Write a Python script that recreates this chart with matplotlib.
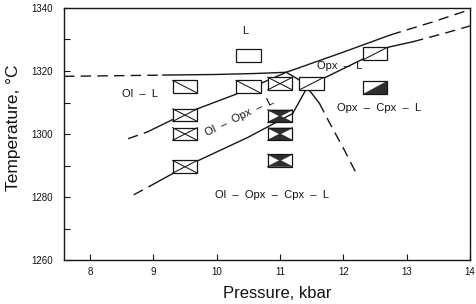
import matplotlib
matplotlib.use("Agg")
import matplotlib.pyplot as plt
from matplotlib.patches import Rectangle, Polygon

plt.rcParams['font.family'] = ['Liberation Sans', 'DejaVu Sans']

# ---- data (pressure kbar, temperature C) ----
# L / Ol-L boundary
ol_liq_dash_p = [7.59, 8.4, 9.15]
ol_liq_dash_t = [1318.3, 1318.5, 1318.7]
ol_liq_solid_p = [9.15, 10.0, 10.6, 11.1]
ol_liq_solid_t = [1318.7, 1318.9, 1319.2, 1319.6]
# Ol-L / Ol-Opx-L and L / Opx-L boundary
opx_in_dash_p = [8.6, 8.9]
opx_in_dash_t = [1298.5, 1300.6]
opx_in_solid_p = [8.9, 9.5, 10.3, 11.1, 12.0, 12.75]
opx_in_solid_t = [1300.6, 1306.5, 1312.6, 1319.6, 1326.0, 1331.5]
opx_in_dash2_p = [12.75, 13.4, 14.0]
opx_in_dash2_t = [1331.5, 1335.5, 1339.5]
# Ol-Opx-L / Ol-Opx-Cpx-L and Opx-L / Opx-Cpx-L boundary
cpx_in_dash_p = [8.69, 8.95]
cpx_in_dash_t = [1280.7, 1283.5]
cpx_in_solid_p = [8.95, 9.5, 10.5, 11.2, 11.42, 11.72, 12.3, 12.72, 13.1]
cpx_in_solid_t = [1283.5, 1289.6, 1299.0, 1306.5, 1314.5, 1318.0, 1323.7, 1327.6, 1329.3]
cpx_in_dash2_p = [13.1, 13.6, 14.0]
cpx_in_dash2_t = [1329.3, 1332.0, 1334.3]
# Ol-out boundary
ol_out_solid_p = [11.1, 11.3, 11.45, 11.62]
ol_out_solid_t = [1319.6, 1317.2, 1314.2, 1309.8]
ol_out_dash_p = [11.62, 11.77, 12.0, 12.23]
ol_out_dash_t = [1309.8, 1304.0, 1295.5, 1286.5]

# experiments: pressure, temperature, symbol
exp_p = [10.5, 9.5, 10.5, 11.0, 11.5, 12.5, 12.5, 9.5, 9.5, 9.5, 11.0, 11.0, 11.0]
exp_t = [1325.0, 1315.0, 1315.0, 1316.0, 1316.0, 1325.5, 1314.7, 1306.0, 1300.0, 1289.6,
         1305.7, 1300.0, 1291.6]
exp_kind = ['open', 'back', 'back', 'cross', 'fwd', 'fwd', 'half', 'cross', 'cross', 'cross',
            'bow', 'bow', 'bow']

field_labels = ['L', 'Ol  –  L', 'Ol  –  Opx  –  L', 'Opx  –  L', 'Opx  –  Cpx  –  L',
                'Ol  –  Opx  –  Cpx  –  L']
field_p = [10.45, 8.79, 10.37, 11.94, 12.57, 10.87]
field_t = [1332.7, 1312.6, 1305.4, 1321.5, 1308.4, 1280.7]
field_rot = [0, 0, 26, 0, 0, 0]

x_ticks = [8, 9, 10, 11, 12, 13, 14]
y_ticks = [1260, 1280, 1300, 1320, 1340]

# ---- figure ----
fig = plt.figure(figsize=(4.76, 3.04), dpi=100)
ax = fig.add_axes([0.1345, 0.1447, 0.853, 0.829])
ax.set_xlim(7.59, 14.0)
ax.set_ylim(1260, 1340)

lc = '#161616'
lw = 1.0
dash = (0, (7.5, 4.5))
ax.plot(ol_liq_dash_p, ol_liq_dash_t, color=lc, lw=lw, ls=dash)
ax.plot(ol_liq_solid_p, ol_liq_solid_t, color=lc, lw=lw)
ax.plot(opx_in_dash_p, opx_in_dash_t, color=lc, lw=lw, ls=dash)
ax.plot(opx_in_solid_p, opx_in_solid_t, color=lc, lw=lw)
ax.plot(opx_in_dash2_p, opx_in_dash2_t, color=lc, lw=lw, ls=dash)
ax.plot(cpx_in_dash_p, cpx_in_dash_t, color=lc, lw=lw, ls=dash)
ax.plot(cpx_in_solid_p, cpx_in_solid_t, color=lc, lw=lw)
ax.plot(cpx_in_dash2_p, cpx_in_dash2_t, color=lc, lw=lw, ls=dash)
ax.plot(ol_out_solid_p, ol_out_solid_t, color=lc, lw=lw)
ax.plot(ol_out_dash_p, ol_out_dash_t, color=lc, lw=lw, ls=dash)

bw, bh = 0.39, 4.0
fill = '#2e2e2e'
for p, t, k in zip(exp_p, exp_t, exp_kind):
    x0, x1 = p - bw / 2, p + bw / 2
    y0, y1 = t - bh / 2, t + bh / 2
    if k == 'half':
        ax.add_patch(Polygon([(x0, y0), (x1, y0), (x1, y1)], closed=True,
                             facecolor=fill, edgecolor='none', zorder=3))
    if k == 'bow':
        ax.add_patch(Polygon([(x0, y1), (x1, y1), (p, t)], closed=True,
                             facecolor=fill, edgecolor='none', zorder=3))
        ax.add_patch(Polygon([(x0, y0), (x1, y0), (p, t)], closed=True,
                             facecolor=fill, edgecolor='none', zorder=3))
    ax.add_patch(Rectangle((x0, y0), bw, bh, facecolor='none' if k in ('half', 'bow') else 'white',
                           edgecolor=lc, lw=0.9, zorder=4 if k in ('half', 'bow') else 2))
    if k in ('back', 'cross'):
        ax.plot([x0, x1], [y1, y0], color=lc, lw=0.75, zorder=3)
    if k in ('fwd', 'cross'):
        ax.plot([x0, x1], [y0, y1], color=lc, lw=0.75, zorder=3)
    if k == 'bow':
        ax.plot([x0, x1], [y0, y1], color=fill, lw=0.75, zorder=3)
        ax.plot([x0, x1], [y1, y0], color=fill, lw=0.75, zorder=3)

for s, p, t, r in zip(field_labels, field_p, field_t, field_rot):
    ax.text(p, t, s, fontsize=8, ha='center', va='center', rotation=r,
            rotation_mode='anchor', color='#111111', zorder=5)

ax.set_xticks(x_ticks)
ax.set_yticks(y_ticks)
ax.set_yticks([1270, 1290, 1310, 1330], minor=True)
ax.tick_params(axis='both', which='both', direction='in', labelsize=7,
               color=lc, labelcolor='#111111', top=False, right=False)
ax.tick_params(axis='both', which='major', length=4, width=0.8)
ax.tick_params(axis='y', which='minor', length=4, width=0.8)
ax.tick_params(axis='y', pad=8)
ax.tick_params(axis='x', pad=5)
for sp in ax.spines.values():
    sp.set_linewidth(1.0)
    sp.set_color(lc)

ax.set_xlabel('Pressure, kbar', fontsize=12, color='#111111')
ax.set_ylabel('Temperature, °C', fontsize=12.5, color='#111111')
ax.xaxis.set_label_coords(0.525, -0.105)
ax.yaxis.set_label_coords(-0.106, 0.525)

fig.savefig('out.png', dpi=100)
